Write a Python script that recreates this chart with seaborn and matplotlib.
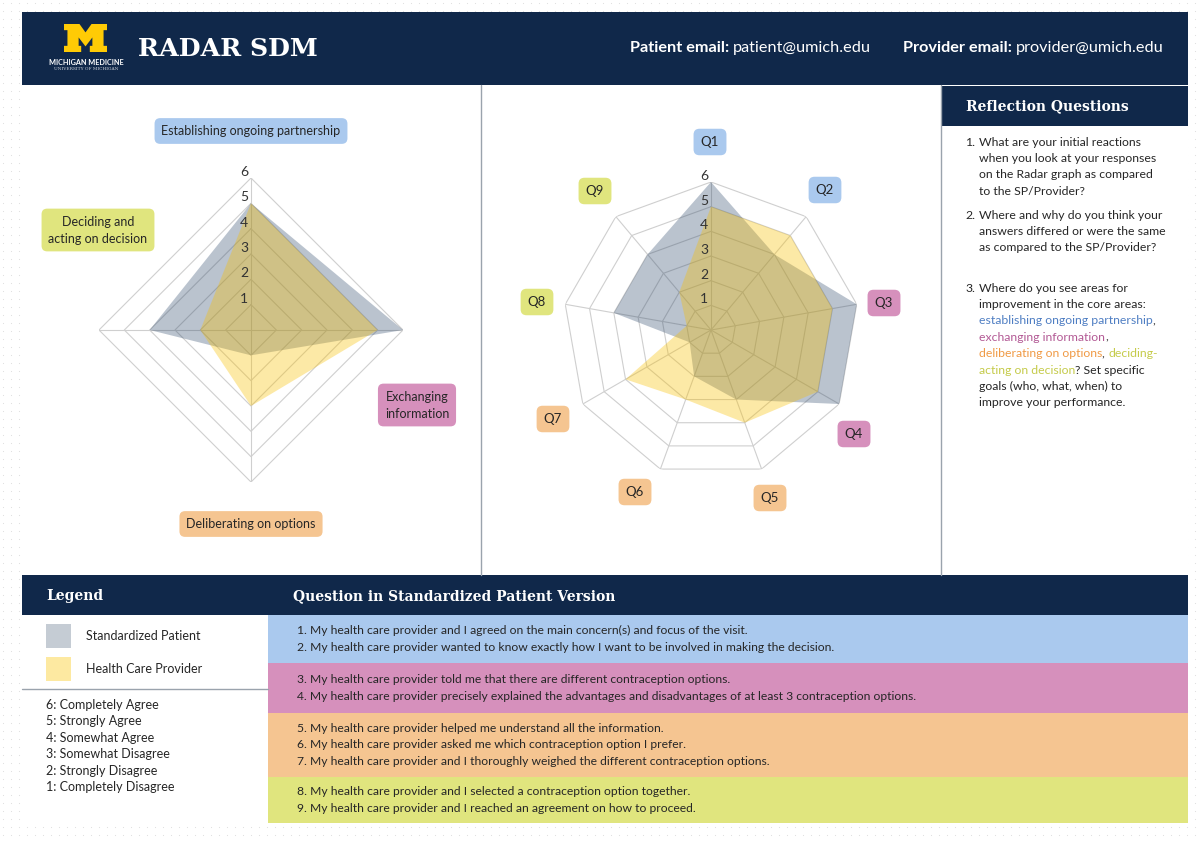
import numpy as np
import matplotlib
matplotlib.use("Agg")
import matplotlib.pyplot as plt
import seaborn as sns
from matplotlib.patches import Rectangle, Polygon

# ---- data ----
domains = ["Establishing ongoing partnership", "Exchanging information",
           "Deliberating on options", "Deciding and acting on decision"]
sp_domain = [5, 6, 1, 4]
hcp_domain = [5, 5, 3, 2]

questions = ["Q1", "Q2", "Q3", "Q4", "Q5", "Q6", "Q7", "Q8", "Q9"]
sp_q = [6, 4, 6, 6, 3, 2, 1, 4, 4]
hcp_q = [5, 5, 5, 5, 4, 3, 4, 1, 2]
q_domain = [0, 0, 1, 1, 2, 2, 2, 3, 3]

scale_labels = ["6: Completely Agree", "5: Strongly Agree", "4: Somewhat Agree",
                "3: Somewhat Disagree", "2: Strongly Disagree", "1: Completely Disagree"]

question_groups = [
    ["1. My health care provider and I agreed on the main concern(s) and focus of the visit.",
     "2. My health care provider wanted to know exactly how I want to be involved in making the decision."],
    ["3. My health care provider told me that there are different contraception options.",
     "4. My health care provider precisely explained the advantages and disadvantages of at least 3 contraception options."],
    ["5. My health care provider helped me understand all the information.",
     "6. My health care provider asked me which contraception option I prefer.",
     "7. My health care provider and I thoroughly weighed the different contraception options."],
    ["8. My health care provider and I selected a contraception option together.",
     "9. My health care provider and I reached an agreement on how to proceed."],
]

# ---- style ----
sns.set_theme(style="white")
plt.rcParams["font.family"] = ["Lato", "DejaVu Sans"]

navy = "#10284a"
domain_colors = sns.color_palette(["#aac9ee", "#d690bc", "#f5c591", "#e0e57e"])
domain_text_colors = ["#4f7ec3", "#b35a95", "#f09a45", "#c5cb4a"]
sp_color = "#294568"
hcp_color = "#f9c000"
grid_color = "#cfcfcf"
text_dark = "#262626"
serif = "DejaVu Serif"

fig = plt.figure(figsize=(12, 8.41), dpi=100)
base = fig.add_axes([0, 0, 1, 1])
base.set_xlim(0, 1200)
base.set_ylim(841, 0)
base.axis("off")
renderer = fig.canvas.get_renderer()

# dotted page background
gx, gy = np.meshgrid(np.arange(3, 1200, 8), np.arange(3, 841, 8))
base.scatter(gx.ravel(), gy.ravel(), s=0.6, color="#dddddd", zorder=0, linewidths=0)

def rect(x0, y0, x1, y1, color, z=1):
    base.add_patch(Rectangle((x0, y0), x1 - x0, y1 - y0, facecolor=color, edgecolor="none", zorder=z))

# panels
rect(22, 12, 1188, 85, navy)
rect(22, 85, 1188, 575, "white")
rect(941, 86, 1188, 126, navy, 2)
rect(22, 575, 1188, 615, navy)
rect(22, 615, 268, 825, "white")
for x in (481, 941):
    base.plot([x, x], [85, 575], color="#9aa3ad", lw=1, zorder=2)

# header logo (block M)
m_shape = np.array([(0, 0), (0.36, 0), (0.5, 0.3), (0.64, 0), (1, 0), (1, 0.22), (0.92, 0.22),
                    (0.92, 0.78), (1, 0.78), (1, 1), (0.6, 1), (0.6, 0.78), (0.66, 0.78),
                    (0.66, 0.48), (0.5, 0.8), (0.34, 0.48), (0.34, 0.78), (0.4, 0.78), (0.4, 1),
                    (0, 1), (0, 0.78), (0.08, 0.78), (0.08, 0.22), (0, 0.22)])
base.add_patch(Polygon(np.column_stack([64 + 43 * m_shape[:, 0], 24 + 28 * m_shape[:, 1]]),
                       closed=True, facecolor="#ffcb05", edgecolor="none", zorder=3))
base.text(86, 62, "MICHIGAN MEDICINE", color="white", fontsize=5.2, fontweight="bold",
          ha="center", va="center", zorder=3)
base.text(86, 69, "UNIVERSITY OF MICHIGAN", color="#d0d6de", fontsize=3.2, family=serif,
          ha="center", va="center", zorder=3)
base.text(138, 49, "RADAR SDM", color="white", fontsize=18.2, fontweight="bold", family=serif,
          ha="left", va="center", zorder=3)

def pieces(x, y, parts, size, z=3):
    for txt, color, weight, gap in parts:
        t = base.text(x, y, txt, color=color, fontsize=size, fontweight=weight,
                      ha="left", va="center", zorder=z)
        x += t.get_window_extent(renderer=renderer).width + gap

pieces(630, 48, [("Patient email:", "white", "bold", 4), ("patient@umich.edu", "white", "normal", 0)], 11.7)
pieces(903, 48, [("Provider email:", "white", "bold", 4), ("provider@umich.edu", "white", "normal", 0)], 11.7)

# section headers
for x, y, s in [(966, 106, "Reflection Questions"), (46, 596, "Legend"),
                (293, 596, "Question in Standardized Patient Version")]:
    base.text(x, y, s, color="white", fontsize=10, fontweight="bold", family=serif,
              va="center", zorder=3)

# reflection questions
fs = 9
refl = [
    (142, "1.", [[("What are your initial reactions", text_dark)],
                 [("when you look at your responses", text_dark)],
                 [("on the Radar graph as compared", text_dark)],
                 [("to the SP/Provider?", text_dark)]]),
    (215, "2.", [[("Where and why do you think your", text_dark)],
                 [("answers differed or were the same", text_dark)],
                 [("as compared to the SP/Provider?", text_dark)]]),
    (288, "3.", [[("Where do you see areas for", text_dark)],
                 [("improvement in the core areas:", text_dark)],
                 [("establishing ongoing partnership", domain_text_colors[0]), (",", text_dark)],
                 [("exchanging information", domain_text_colors[1]), (",", text_dark)],
                 [("deliberating on options", domain_text_colors[2]), (", ", text_dark),
                  ("deciding-", domain_text_colors[3])],
                 [("acting on decision", domain_text_colors[3]), ("? Set specific", text_dark)],
                 [("goals (who, what, when) to", text_dark)],
                 [("improve your performance.", text_dark)]]),
]
for y0, num, lines in refl:
    base.text(965, y0, num, color=text_dark, fontsize=8.8, va="center", zorder=3)
    for i, line in enumerate(lines):
        parts = [(t, c, "normal", 0) for t, c in line]
        pieces(979, y0 + i * 16.4, parts, 8.8)

# legend
rect(46, 624, 71, 648, "#c5ccd4", 3)
rect(46, 657, 71, 681, "#fde9a1", 3)
base.text(86, 636, "Standardized Patient", color=text_dark, fontsize=fs, va="center", zorder=3)
base.text(86, 669, "Health Care Provider", color=text_dark, fontsize=fs, va="center", zorder=3)
base.plot([22, 268], [689, 689], color="#9aa3ad", lw=1, zorder=3)
for i, s in enumerate(scale_labels):
    base.text(46, 705 + i * 16.4, s, color=text_dark, fontsize=fs, va="center", zorder=3)

# question rows
row_edges = [615, 663, 713, 777, 823]
for g, lines in enumerate(question_groups):
    rect(268, row_edges[g], 1188, row_edges[g + 1], domain_colors[g], 2)
    mid = (row_edges[g] + row_edges[g + 1]) / 2
    n = len(lines)
    for i, line in enumerate(lines):
        base.text(297, mid + (i - (n - 1) / 2) * 16.4, line, color=text_dark,
                  fontsize=8.75, va="center", zorder=3)

# ---- radar charts ----
def radar(cx, cy, rad, labels, sp, hcp):
    ax = fig.add_axes([(cx - rad) / 1200, 1 - (cy + rad) / 841, 2 * rad / 1200, 2 * rad / 841],
                      projection="polar")
    ax.set_theta_zero_location("N")
    ax.set_theta_direction(-1)
    ax.set_ylim(0, 6)
    ax.grid(False)
    ax.set_xticks([])
    ax.set_yticks([])
    ax.spines["polar"].set_visible(False)
    ax.patch.set_alpha(0)
    n = len(labels)
    theta = np.linspace(0, 2 * np.pi, n, endpoint=False)
    closed = np.append(theta, theta[0])
    for k in range(1, 7):
        ax.plot(closed, [k] * (n + 1), color=grid_color, lw=0.8, zorder=1)
    for t in theta:
        ax.plot([t, t], [0, 6], color=grid_color, lw=0.8, zorder=1)
    ax.fill(closed, np.append(sp, sp[0]), color=sp_color, alpha=0.32, lw=0, zorder=2)
    ax.fill(closed, np.append(hcp, hcp[0]), color=hcp_color, alpha=0.35, lw=0, zorder=3)
    for k in range(1, 7):
        ax.annotate(str(k), (0, k), xytext=(-7, 6), textcoords="offset pixels",
                    ha="center", va="center", fontsize=10, color="#333333", zorder=4)
    return ax

radar(251, 330, 152, domains, sp_domain, hcp_domain)
radar(711, 330, 148, questions, sp_q, hcp_q)

box = dict(boxstyle="round,pad=0.55,rounding_size=0.45", ec="none")
left_label_pos = [(251, 131), (417, 405), (251, 524), (98, 230)]
left_label_txt = ["Establishing ongoing partnership", "Exchanging\ninformation",
                  "Deliberating on options", "Deciding and\nacting on decision"]
for i, ((x, y), s) in enumerate(zip(left_label_pos, left_label_txt)):
    base.text(x, y, s, ha="center", va="center", fontsize=9, color=text_dark,
              linespacing=1.5, bbox={**box, "fc": domain_colors[i]}, zorder=5)

q_label_pos = [(710, 142), (825, 190), (884, 303), (854, 434), (770, 498),
               (635, 492), (553, 419), (537, 302), (595, 191)]
for i, ((x, y), q) in enumerate(zip(q_label_pos, questions)):
    base.text(x, y, q, ha="center", va="center", fontsize=9.5, color=text_dark,
              bbox={**box, "pad": 0.65, "fc": domain_colors[q_domain[i]]}, zorder=5)

fig.savefig("out.png", dpi=100)
